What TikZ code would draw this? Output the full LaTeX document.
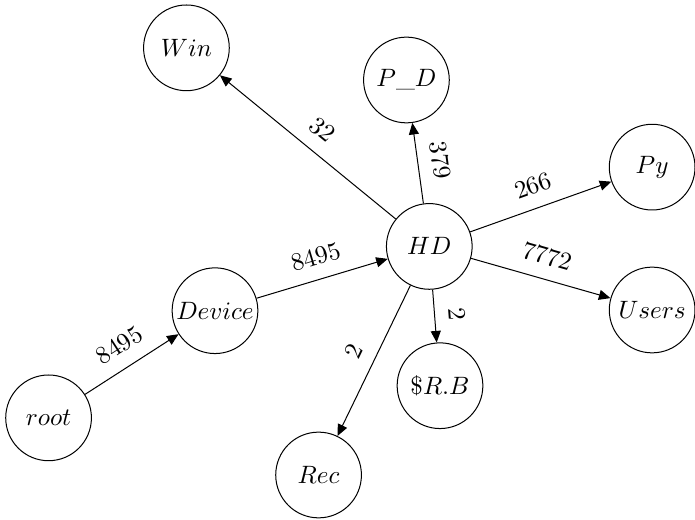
\documentclass[tikz,border=0pt]{standalone}
\usepackage{amsmath, amssymb}
\usetikzlibrary{arrows.meta}

\begin{document}
\begin{tikzpicture}[
    vert/.style={circle, draw, minimum size=1.2cm, inner sep=0pt},
    link/.style={-{Triangle[length=4.6pt, width=4pt]}},
    lbl/.style={midway, sloped, above=2pt}
]
    \useasboundingbox (0,0) rectangle (9.73,7.28);

    % Circles with labels
    \node at (0.68,1.43) [vert] (Root) {$root$};
    \node at (3.01,2.93) [vert] (Dev) {$Device$};
    \node at (6.01,3.83) [vert] (HD) {$HD$};
    \node at (2.61,6.61) [vert] (Win) {$Win$};
    \node at (5.69,6.16) [vert] (PD) {$P\_D$};
    \node at (9.13,4.94) [vert] (Py) {$Py$};
    \node at (9.13,2.94) [vert] (Us) {$Users$};
    \node at (6.16,1.88) [vert] (RB) {$\$R.B$};
    \node at (4.46,0.63) [vert] (Rec) {$Rec$};

    % Arrows
    \draw[link] (Root) -- node[lbl] {8495} (Dev);
    \draw[link] (Dev) -- node[lbl] {8495} (HD);
    \draw[link] (HD) -- node[lbl] {32} (Win);
    \draw[link] (HD) -- node[lbl] {379} (PD);
    \draw[link] (HD) -- node[lbl] {266} (Py);
    \draw[link] (HD) -- node[lbl] {7772} (Us);
    \draw[link] (HD) -- node[lbl] {2} (RB);
    \draw[link] (HD) -- node[lbl] {2} (Rec);

\end{tikzpicture}
\end{document}
